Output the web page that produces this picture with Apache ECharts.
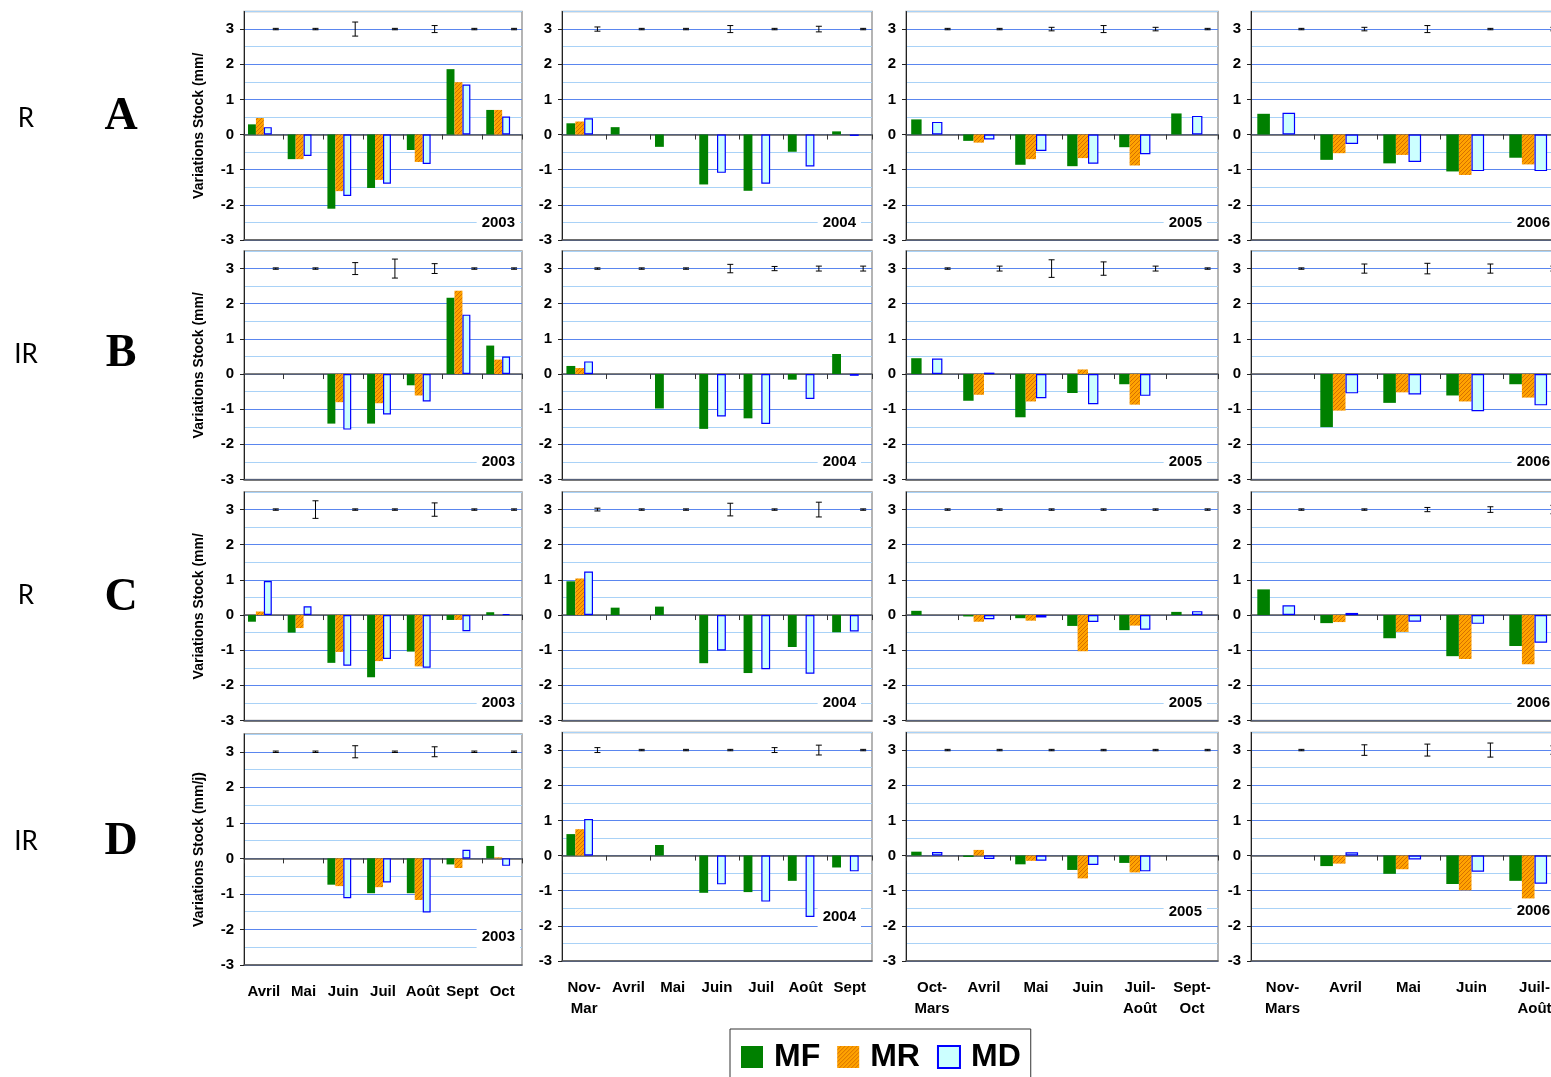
<!DOCTYPE html>
<html>
<head>
<meta charset="UTF-8">
<title>Variations Stock</title>
<script src="https://cdn.jsdelivr.net/npm/echarts@6/dist/echarts.min.js"></script>
<style>
html, body { margin: 0; padding: 0; background: #fff; }
#main { width: 1551px; height: 1077px; }
</style>
</head>
<body>
<div id="main"></div>
<script>
// categories per column (year)
var cat2003 = ['Avril', 'Mai', 'Juin', 'Juil', 'Août', 'Sept', 'Oct'];
var cat2004 = ['Nov-\nMar', 'Avril', 'Mai', 'Juin', 'Juil', 'Août', 'Sept'];
var cat2005 = ['Oct-\nMars', 'Avril', 'Mai', 'Juin', 'Juil-\nAoût', 'Sept-\nOct'];
var cat2006 = ['Nov-\nMars', 'Avril', 'Mai', 'Juin', 'Juil-\nAoût'];
var years = ['2003', '2004', '2005', '2006'];
var rowLetters = ['A', 'B', 'C', 'D'];
var rowTypes = ['R', 'IR', 'R', 'IR'];
var errAt = 3; // error bars are drawn around this value

// each array: [2003, 2004, 2005, 2006]
var mfA = [[0.29, -0.70, -2.11, -1.52, -0.44, 1.86, 0.70], [0.32, 0.21, -0.35, -1.42, -1.60, -0.49, 0.09], [0.43, -0.18, -0.86, -0.90, -0.36, 0.60], [0.59, -0.72, -0.82, -1.05, -0.66]];
var mrA = [[0.47, -0.70, -1.61, -1.29, -0.78, 1.49, 0.70], [0.37, null, null, null, null, null, null], [null, -0.23, -0.70, -0.67, -0.88, null], [null, -0.53, -0.58, -1.15, -0.85]];
var mdA = [[0.21, -0.61, -1.75, -1.40, -0.84, 1.42, 0.51], [0.46, null, null, -1.09, -1.40, -0.91, -0.04], [0.36, -0.14, -0.47, -0.83, -0.56, 0.53], [0.62, -0.27, -0.78, -1.04, -1.04]];
var errA = [[0.02, 0.02, 0.2, 0.02, 0.1, 0.02, 0.02], [0.06, 0.02, 0.02, 0.1, 0.02, 0.08, 0.02], [0.02, 0.02, 0.05, 0.1, 0.05, 0.02], [0.02, 0.05, 0.1, 0.02, 0.05]];

var mfB = [[null, null, -1.41, -1.41, -0.32, 2.17, 0.81], [0.23, null, -0.98, -1.56, -1.26, -0.16, 0.57], [0.45, -0.76, -1.23, -0.54, -0.29, null], [null, -1.51, -0.82, -0.61, -0.29]];
var mrB = [[null, null, -0.80, -0.83, -0.61, 2.37, 0.41], [0.17, null, null, null, null, null, null], [null, -0.59, -0.78, 0.13, -0.87, null], [null, -1.04, -0.52, -0.78, -0.67]];
var mdB = [[null, null, -1.58, -1.15, -0.78, 1.69, 0.50], [0.36, null, null, -1.21, -1.42, -0.71, -0.05], [0.44, 0.04, -0.69, -0.86, -0.62, null], [null, -0.55, -0.58, -1.06, -0.89]];
var errB = [[0.02, 0.02, 0.17, 0.27, 0.14, 0.02, 0.02], [0.02, 0.02, 0.02, 0.12, 0.06, 0.07, 0.07], [0.02, 0.07, 0.25, 0.19, 0.07, 0.02], [0.02, 0.13, 0.15, 0.13, 0.07]];

var mfC = [[-0.19, -0.50, -1.36, -1.77, -1.04, -0.14, 0.08], [0.96, 0.21, 0.24, -1.37, -1.65, -0.91, -0.49], [0.12, -0.04, -0.09, -0.31, -0.43, 0.09], [0.73, -0.23, -0.66, -1.17, -0.88]];
var mrC = [[0.10, -0.37, -1.05, -1.31, -1.46, -0.14, null], [1.04, null, null, null, null, null, null], [null, -0.19, -0.16, -1.03, -0.30, null], [null, -0.20, -0.48, -1.25, -1.40]];
var mdC = [[0.97, 0.25, -1.44, -1.25, -1.50, -0.46, 0.03], [1.24, null, null, -1.01, -1.54, -1.67, -0.47], [null, -0.12, -0.07, -0.20, -0.42, 0.11], [0.28, 0.06, -0.19, -0.25, -0.79]];
var errC = [[0.02, 0.25, 0.02, 0.02, 0.19, 0.02, 0.02], [0.04, 0.02, 0.02, 0.18, 0.02, 0.21, 0.02], [0.02, 0.02, 0.02, 0.02, 0.02, 0.02], [0.02, 0.02, 0.06, 0.08, 0.12]];

var mfD = [[null, null, -0.74, -0.98, -0.98, -0.17, 0.35], [0.61, null, 0.30, -1.06, -1.04, -0.72, -0.34], [0.11, -0.04, -0.25, -0.41, -0.21, null], [null, -0.30, -0.52, -0.81, -0.72]];
var mrD = [[null, null, -0.78, -0.81, -1.17, -0.27, 0.03], [0.75, null, null, null, null, null, null], [null, 0.16, -0.15, -0.65, -0.48, null], [null, -0.23, -0.39, -0.99, -1.22]];
var mdD = [[null, null, -1.12, -0.68, -1.52, 0.24, -0.21], [1.04, null, null, -0.82, -1.31, -1.75, -0.45], [0.10, -0.10, -0.15, -0.27, -0.45, null], [null, 0.09, -0.11, -0.46, -0.80]];
var errD = [[0.02, 0.02, 0.17, 0.02, 0.14, 0.02, 0.02], [0.07, 0.02, 0.02, 0.02, 0.07, 0.14, 0.02], [0.02, 0.02, 0.02, 0.02, 0.02, 0.02], [0.02, 0.15, 0.17, 0.2, 0.12]];

// where the year tag sits on the value axis
var yearTagRowsABC = -2.5;
var yearTagRowD = [-2.2, -1.75, -1.6, -1.57];

var FONT = 'Liberation Sans, Arial, sans-serif';
var cats = [cat2003, cat2004, cat2005, cat2006];
var rows = [
	{mf: mfA, mr: mrA, md: mdA, err: errA},
	{mf: mfB, mr: mrB, md: mdB, err: errB},
	{mf: mfC, mr: mrC, md: mdC, err: errC},
	{mf: mfD, mr: mrD, md: mdD, err: errD}
];

// layout of the 4x4 panels
var colLeft = [244, 562, 906, 1251];
var colWidth = [278, 310, 312, 315];
var rowTop = [11.5, 251, 492, 732.5];
var panelH = 228.5;

// orange with dark diagonal hatching
function hatchCanvas() {
	var cv = document.createElement('canvas');
	cv.width = 4; cv.height = 4;
	var ctx = cv.getContext('2d');
	ctx.fillStyle = '#ffa300';
	ctx.fillRect(0, 0, 4, 4);
	ctx.strokeStyle = 'rgba(200,95,0,0.75)';
	ctx.lineWidth = 1;
	ctx.beginPath();
	ctx.moveTo(0, 4); ctx.lineTo(4, 0);
	ctx.moveTo(-1, 1); ctx.lineTo(1, -1);
	ctx.moveTo(3, 5); ctx.lineTo(5, 3);
	ctx.stroke();
	return cv;
}

function renderErr(params, api) {
	var i = api.value(0), e = api.value(1);
	var mid = api.coord([i, errAt]);
	var band = api.size([1, 0])[0];
	var x = mid[0] + 0.3 * band; // 4th slot of the bar group
	var y1 = api.coord([i, errAt + e])[1];
	var y2 = api.coord([i, errAt - e])[1];
	var st = {stroke: '#000', lineWidth: 1};
	return {
		type: 'group',
		children: [
			{type: 'line', shape: {x1: x, y1: y1, x2: x, y2: y2}, style: st},
			{type: 'line', shape: {x1: x - 3, y1: y1, x2: x + 3, y2: y1}, style: st},
			{type: 'line', shape: {x1: x - 3, y1: y2, x2: x + 3, y2: y2}, style: st}
		]
	};
}

// tuned: extra legend text padding; plain: the set-up known to draw
function buildOption(tuned) {
	var grids = [], xAxes = [], yAxes = [], series = [];
	for (var r = 0; r < 4; r++) {
		for (var c = 0; c < 4; c++) {
			var g = r * 4 + c;
			var top = rowTop[r], h = panelH;
			if (r == 3 && c == 0) { top = 734; h = 231; }
			grids.push({
				left: colLeft[c], top: top, width: colWidth[c], height: h,
				show: true, backgroundColor: '#fff', borderColor: '#9c9c9c', borderWidth: 1.5,
				outerBoundsMode: 'none'
			});
			// axis through zero, with the ticks between months
			xAxes.push({
				gridIndex: g, type: 'category', data: cats[c].slice(), position: 'bottom',
				axisLine: {show: true, onZero: true, lineStyle: {color: '#555', width: 1.5}},
				axisTick: {show: true, length: 5, lineStyle: {color: '#333'}},
				axisLabel: {show: false}, splitLine: {show: false}
			});
			// bottom axis, month labels on the last row
			xAxes.push({
				gridIndex: g, type: 'category', data: cats[c].slice(), position: 'bottom',
				axisLine: {show: true, onZero: false, lineStyle: {color: '#555', width: 1.5}},
				axisTick: {show: false},
				axisLabel: {
					show: r == 3, interval: 0, margin: 16, lineHeight: 21,
					fontSize: 15, fontWeight: 'bold', color: '#000', fontFamily: FONT
				},
				splitLine: {show: false}
			});
			yAxes.push({
				gridIndex: g, type: 'value', min: -3, max: 3.5, interval: 0.5, position: 'left',
				axisLine: {show: true, onZero: false, lineStyle: {color: '#222'}},
				axisTick: {show: false}, axisLabel: {show: false},
				splitLine: {show: true, lineStyle: {color: ['#5a86ef', '#a9d2f7'], width: 1}}
			});
			var labelAxis = {
				gridIndex: g, type: 'value', min: -3, max: 3.5, interval: 1, position: 'left',
				axisLine: {show: false, onZero: false},
				axisTick: {show: true, length: 4, lineStyle: {color: '#222'}},
				axisLabel: {fontSize: 15, fontWeight: 'bold', color: '#000', margin: 10, showMaxLabel: false, fontFamily: FONT},
				splitLine: {show: false}
			};
			if (c == 0) {
				labelAxis.name = r == 3 ? 'Variations Stock (mm/j)' : 'Variations Stock (mm/';
				labelAxis.nameLocation = 'middle';
				labelAxis.nameGap = 38;
				labelAxis.nameTextStyle = {fontSize: 14, fontWeight: 'bold', color: '#000', fontFamily: FONT};
			}
			yAxes.push(labelAxis);

			var d = rows[r];
			series.push({
				type: 'bar', name: 'MF', xAxisIndex: 2 * g, yAxisIndex: 2 * g, barGap: '0%', barCategoryGap: '20%',
				data: d.mf[c].slice(), itemStyle: {color: '#008000'}
			});
			series.push({
				type: 'bar', name: 'MR', xAxisIndex: 2 * g, yAxisIndex: 2 * g, barGap: '0%', barCategoryGap: '20%',
				data: d.mr[c].slice(),
				itemStyle: {color: {image: hatchCanvas(), repeat: 'repeat'}}
			});
			series.push({
				type: 'bar', name: 'MD', xAxisIndex: 2 * g, yAxisIndex: 2 * g, barGap: '0%', barCategoryGap: '20%',
				data: d.md[c].slice(), itemStyle: {color: '#ccffff', borderColor: '#0000ff', borderWidth: 1.2}
			});
			// empty 4th slot, the error bars stand in it
			series.push({
				type: 'bar', name: 'slot', xAxisIndex: 2 * g, yAxisIndex: 2 * g, barGap: '0%', barCategoryGap: '20%',
				data: d.err[c].map(function() { return null; }), silent: true
			});
			series.push({
				name: 'err', type: 'custom', xAxisIndex: 2 * g, yAxisIndex: 2 * g,
				data: d.err[c].map(function(e, i) { return [i, e]; }),
				renderItem: renderErr, z: 5, silent: true
			});
		}
	}
	var textStyle = {fontSize: 32, fontWeight: 'bold', color: '#000', fontFamily: FONT};
	if (tuned) textStyle.padding = [0, 0, 0, 6];
	return {
		animation: false,
		backgroundColor: '#fff',
		grid: grids,
		xAxis: xAxes,
		yAxis: yAxes,
		legend: {
			data: ['MF', 'MR', 'MD'],
			left: 730, top: 1029,
			padding: [12, 10, 20, 11],
			itemWidth: 22, itemHeight: 22, itemGap: 17,
			icon: 'rect',
			borderColor: '#333', borderWidth: 1,
			textStyle: textStyle
		},
		series: series
	};
}

function sideGraphics() {
	var gr = [];
	for (var r = 0; r < 4; r++) {
		gr.push({type: 'text', id: 'type' + r, x: 26, y: [119, 355, 596, 842][r], style: {text: rowTypes[r], font: '26px Lato, Open Sans, sans-serif', fill: '#000', align: 'center', verticalAlign: 'middle'}});
		gr.push({type: 'text', id: 'letter' + r, x: 121, y: [117, 354, 598, 842][r], style: {text: rowLetters[r], font: 'bold 46px Liberation Serif, Times New Roman, serif', fill: '#000', align: 'center', verticalAlign: 'middle'}});
	}
	return gr;
}

var chart = null;
var tries = [true, false];
for (var t = 0; t < tries.length; t++) {
	try {
		if (chart) chart.dispose();
		chart = echarts.init(document.getElementById('main'));
		var opt = buildOption(tries[t]);
		opt.graphic = sideGraphics();
		chart.setOption(opt);
		break;
	} catch (e) {
		console.log(e.message);
	}
}

// year tags in the lower right corner of each panel
var tags = [];
for (var r = 0; r < 4; r++) {
	for (var c = 0; c < 4; c++) {
		var g = r * 4 + c;
		var v = r == 3 ? yearTagRowD[c] : yearTagRowsABC;
		var py = chart.convertToPixel({yAxisIndex: 2 * g}, v);
		tags.push({
			type: 'text', id: 'year' + g, z: 50,
			x: colLeft[c] + colWidth[c] - (c == 0 ? 2 : 11), y: py,
			style: {text: years[c], font: 'bold 15px ' + FONT, fill: '#000', align: 'right', verticalAlign: 'middle', backgroundColor: '#fff', padding: [4, 5]}
		});
	}
}
chart.setOption({graphic: tags});
</script>
</body>
</html>
